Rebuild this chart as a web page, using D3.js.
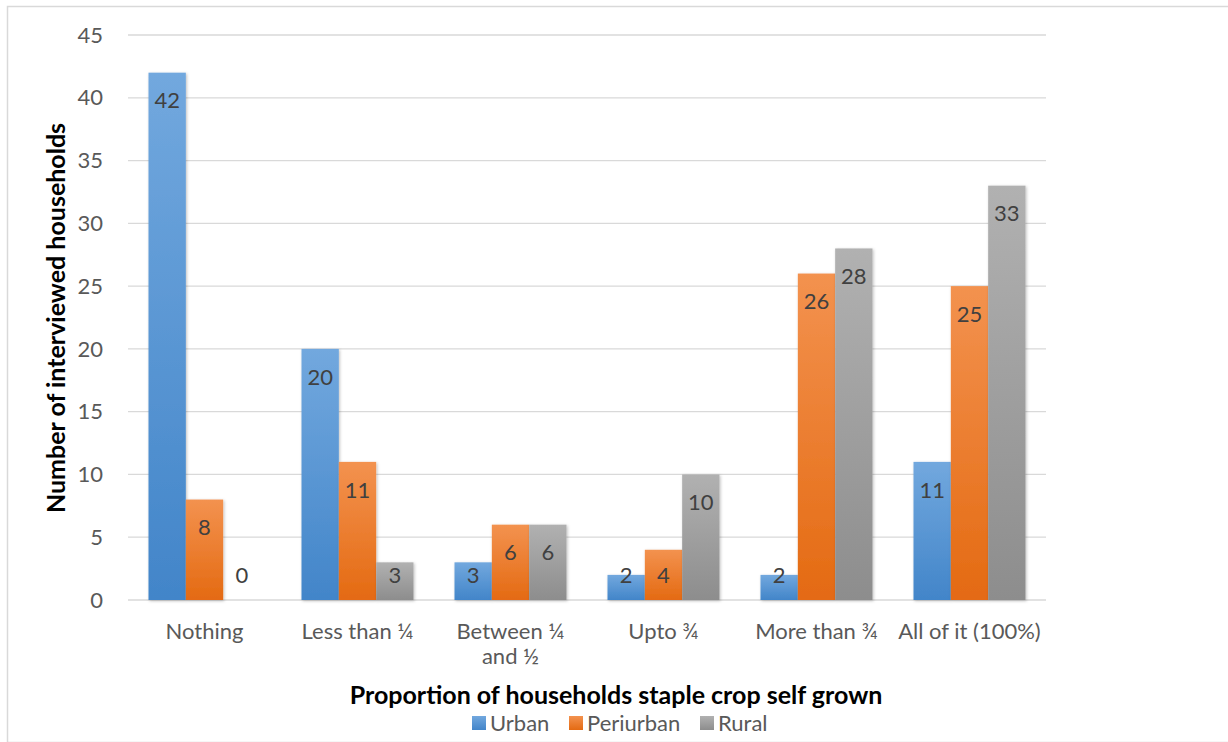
<!DOCTYPE html>
<html lang="en">
<head>
    <meta charset="UTF-8">
    <title>Staple crop self grown</title>
    <script src="https://d3js.org/d3.v7.min.js"></script>
    <style>
        body { margin: 0; background: #fff; }
        text { font-family: Lato, "Open Sans", sans-serif; }
        .grid line { stroke: #d9d9d9; stroke-width: 1.3; }
        .tick-label { fill: #595959; font-size: 22px; }
        .val { fill: #404040; font-size: 22px; }
        .title { fill: #000; font-size: 25px; font-weight: bold; }
    </style>
</head>
<body>
<script>
    // data
    const categories = ["Nothing", "Less than ¼", "Between ¼ and ½", "Upto ¾", "More than ¾", "All of it (100%)"];
    const series = ["Urban", "Periurban", "Rural"];
    const urban = [42, 20, 3, 2, 2, 11];
    const periurban = [8, 11, 6, 4, 26, 25];
    const rural = [0, 3, 6, 10, 28, 33];
    const yTicks = [0, 5, 10, 15, 20, 25, 30, 35, 40, 45];

    const values = [urban, periurban, rural];
    const colors = [
        { top: "#72a8de", bottom: "#4285c9" },
        { top: "#f3924f", bottom: "#e46a12" },
        { top: "#b1b1b1", bottom: "#8d8d8d" }
    ];

    const W = 1228, H = 742;
    const plot = { left: 128, right: 1046, top: 35, bottom: 600 };

    const svg = d3.select("body").append("svg")
        .attr("width", W)
        .attr("height", H);

    const defs = svg.append("defs");
    colors.forEach((c, i) => {
        const g = defs.append("linearGradient")
            .attr("id", "grad" + i)
            .attr("x1", 0).attr("y1", 0).attr("x2", 0).attr("y2", 1);
        g.append("stop").attr("offset", "0%").attr("stop-color", c.top);
        g.append("stop").attr("offset", "100%").attr("stop-color", c.bottom);
    });
    const shadow = defs.append("filter").attr("id", "shadow")
        .attr("x", "-20%").attr("y", "-20%").attr("width", "140%").attr("height", "140%");
    shadow.append("feDropShadow")
        .attr("dx", 1).attr("dy", 1).attr("stdDeviation", 1.5)
        .attr("flood-color", "#000").attr("flood-opacity", 0.25);

    // outer frame
    svg.append("rect")
        .attr("x", 7.5).attr("y", 6.5)
        .attr("width", W + 10).attr("height", H - 6)
        .attr("fill", "none")
        .attr("stroke", "#d9d9d9")
        .attr("stroke-width", 1.5);

    const y = d3.scaleLinear().domain([0, 45]).range([plot.bottom, plot.top]);
    const x0 = d3.scaleBand().domain(categories).range([plot.left, plot.right]).paddingInner(0.268).paddingOuter(0.134);
    const x1 = d3.scaleBand().domain(series).range([0, x0.bandwidth()]);

    // gridlines
    svg.append("g").attr("class", "grid")
        .selectAll("line")
        .data(yTicks)
        .enter().append("line")
        .attr("x1", plot.left).attr("x2", plot.right)
        .attr("y1", d => y(d)).attr("y2", d => y(d));

    // y tick labels
    svg.append("g")
        .selectAll("text")
        .data(yTicks)
        .enter().append("text")
        .attr("class", "tick-label")
        .attr("x", 103)
        .attr("y", d => y(d))
        .attr("dy", "0.35em")
        .attr("text-anchor", "end")
        .text(d => d);

    // bars
    const groups = svg.append("g")
        .selectAll("g")
        .data(categories)
        .enter().append("g")
        .attr("transform", d => `translate(${x0(d)},0)`);

    const cells = groups.selectAll("g")
        .data((c, ci) => series.map((s, si) => ({ s, si, v: values[si][ci] })))
        .enter().append("g");

    cells.append("rect")
        .filter(d => d.v > 0)
        .attr("x", d => x1(d.s))
        .attr("y", d => y(d.v))
        .attr("width", x1.bandwidth())
        .attr("height", d => plot.bottom - y(d.v))
        .attr("fill", d => `url(#grad${d.si})`)
        .attr("filter", "url(#shadow)");

    cells.append("text")
        .attr("class", "val")
        .attr("x", d => x1(d.s) + x1.bandwidth() / 2)
        .attr("y", d => Math.min(y(d.v) + 28, plot.bottom - 25))
        .attr("dy", "0.35em")
        .attr("text-anchor", "middle")
        .text(d => d.v);

    // category labels
    svg.append("g")
        .selectAll("text")
        .data(categories)
        .enter().append("text")
        .attr("class", "tick-label")
        .attr("x", d => x0(d) + x0.bandwidth() / 2)
        .attr("y", 639)
        .attr("text-anchor", "middle")
        .each(function (d) {
            const lines = d === "Between ¼ and ½" ? ["Between ¼", "and ½"] : [d];
            const t = d3.select(this);
            lines.forEach((ln, i) => {
                t.append("tspan")
                    .attr("x", x0(d) + x0.bandwidth() / 2)
                    .attr("dy", i === 0 ? 0 : 25)
                    .text(ln);
            });
        });

    // axis titles
    svg.append("text")
        .attr("class", "title")
        .attr("transform", "translate(56,318) rotate(-90)")
        .attr("dy", "0.35em")
        .attr("text-anchor", "middle")
        .text("Number of interviewed households");

    svg.append("text")
        .attr("class", "title")
        .attr("x", 616)
        .attr("y", 704)
        .attr("text-anchor", "middle")
        .text("Proportion of households staple crop self grown");

    // legend
    const legendX = [472, 569, 700];
    const legend = svg.append("g")
        .selectAll("g")
        .data(series)
        .enter().append("g")
        .attr("transform", (d, i) => `translate(${legendX[i]},716)`);
    legend.append("rect")
        .attr("width", 14).attr("height", 14)
        .attr("fill", (d, i) => `url(#grad${i})`);
    legend.append("text")
        .attr("class", "tick-label")
        .attr("x", 18)
        .attr("y", 15)
        .text(d => d);
</script>
</body>
</html>
